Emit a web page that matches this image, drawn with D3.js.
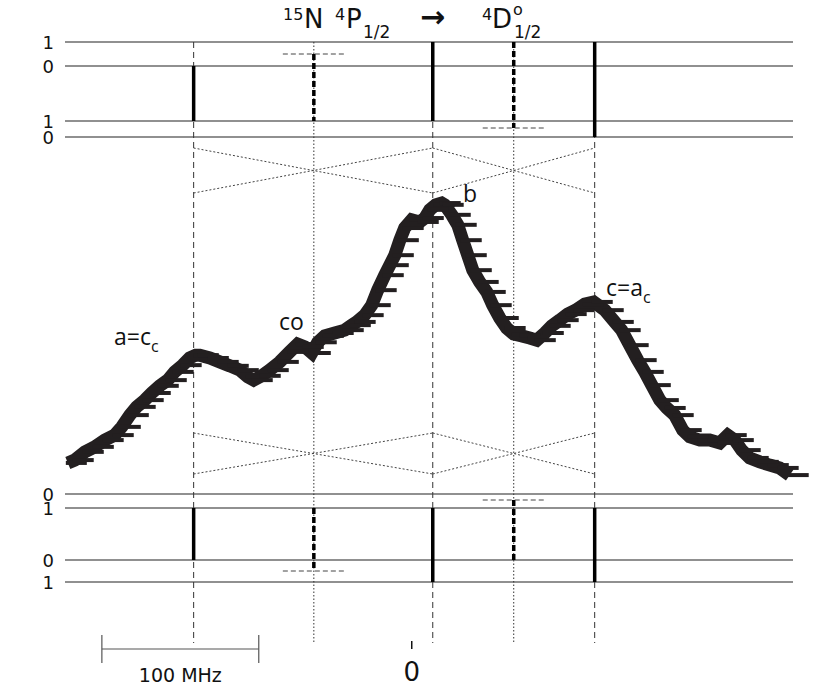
<!DOCTYPE html>
<html><head><meta charset="utf-8">
<script src="https://cdn.jsdelivr.net/npm/d3@7"></script>
<style>body{margin:0;background:#fff}svg{display:block}</style>
</head><body>
<script>
// ---- data ----
// transition positions (MHz relative to 0)
const lineFreqs = [-139, -62.4, 13.4, 65, 116.6];
const lineKinds = ["dashed", "dotted", "dashed", "dotted", "dashed"];
const peakLabels = ["a=c", "co", "b", "", "c=a"];
// curve: frequency (MHz) and intensity (arb.)
const freq = [-219.2,-214.8,-208.4,-202.0,-195.7,-189.3,-184.8,-179.7,-175.3,-170.2,-165.7,-160.6,-155.5,-151.1,-146.0,-141.5,-137.7,
 -135.1,-128.7,-122.4,-116.0,-109.6,-104.5,-100.7,-95.6,-90.5,-84.1,-77.8,-72.7,-68.2,-63.7,-59.9,-55.4,-49.1,-42.7,-38.2,
 -35.1,-30.0,-25.5,-21.7,-17.2,-14.0,-10.8,-7.6,-4.5,0,5.1,8.3,11.5,15.3,19.1,
 21.0,25.5,29.3,32.5,35.7,38.9,43.3,47.8,51.6,56.1,60.5,65.0,70.1,75.2,79.7,84.8,89.2,94.3,99.4,104.5,110.3,116.0,
 123.0,129.4,133.8,138.9,144.0,148.5,153.0,158.1,162.5,167.6,172.7,177.2,183.6,189.9,196.3,201.4,205.9,210.3,215.4,221.8,228.2,234.5,240.9];
const intensity = [0.087,0.095,0.118,0.132,0.151,0.165,0.188,0.221,0.244,0.263,0.283,0.303,0.319,0.342,0.361,0.381,0.389,
 0.389,0.381,0.370,0.359,0.347,0.328,0.319,0.331,0.347,0.370,0.398,0.420,0.412,0.395,0.425,0.443,0.451,0.459,0.473,
 0.482,0.501,0.529,0.571,0.613,0.641,0.669,0.711,0.745,0.768,0.762,0.773,0.796,0.810,0.815,
 0.810,0.782,0.754,0.711,0.669,0.627,0.594,0.566,0.529,0.493,0.465,0.448,0.443,0.437,0.431,0.451,0.471,0.487,0.504,0.515,0.532,0.538,
 0.515,0.482,0.459,0.417,0.375,0.342,0.305,0.263,0.241,0.221,0.179,0.160,0.151,0.151,0.143,0.165,0.151,0.123,0.101,0.090,0.081,0.073,0.053];
// level panels: [value label, level]
const topLevels = [["1",42],["0",66],["1",121],["0",137]];
const botLevels = [["0",494],["1",508],["0",560],["1",582]];
const scaleMHz = 100;

// ---- drawing ----
const W = 827, H = 688;
const svg = d3.select("body").append("svg").attr("width", W).attr("height", H);
const x = d3.scaleLinear().domain([-221, 243]).range([65, 793]);
const y = d3.scaleLinear().domain([0, 1]).range([494, 137]);
const ink = "#231f20";

// panel level lines
[...topLevels, ...botLevels].forEach(([lab, py]) => {
  svg.append("line").attr("x1", 65).attr("x2", 793).attr("y1", py).attr("y2", py)
    .attr("stroke", "#222").attr("stroke-width", 1.2);
  svg.append("text").attr("x", 54).attr("y", py + 6.5).attr("text-anchor", "end")
    .attr("font-family", "DejaVu Sans")
    .attr("font-size", 18).attr("fill", "#111").text(lab);
});

// vertical guide lines
lineFreqs.forEach((f, i) => {
  svg.append("line").attr("x1", x(f)).attr("x2", x(f)).attr("y1", 42).attr("y2", 643)
    .attr("stroke", "#333").attr("stroke-width", 1)
    .attr("stroke-dasharray", lineKinds[i] === "dashed" ? "6,4" : "1.5,2");
});

// dotted crossing lines (top and bottom)
const crossPairs = [[0, 2], [2, 4]];
[[148, 193], [433, 474]].forEach(([ya, yb]) => {
  crossPairs.forEach(([i, j]) => {
    const xa = x(lineFreqs[i]), xb = x(lineFreqs[j]);
    [[ya, yb], [yb, ya]].forEach(([y1, y2]) => {
      svg.append("line").attr("x1", xa).attr("x2", xb).attr("y1", y1).attr("y2", y2)
        .attr("stroke", "#444").attr("stroke-width", 1).attr("stroke-dasharray", "2,2");
    });
  });
});

// level bars: [line index, y1, y2, dashed, capY]
const bars = [
  [0, 66, 121, false, null], [1, 54, 121, true, 54], [2, 42, 121, false, null], [3, 42, 128, true, 128], [4, 42, 137, false, null],
  [0, 508, 560, false, null], [1, 508, 571, true, 571], [2, 508, 582, false, null], [3, 500, 560, true, 500], [4, 508, 582, false, null]
];
bars.forEach(([i, y1, y2, dashed, cap]) => {
  const cx = x(lineFreqs[i]);
  svg.append("line").attr("x1", cx).attr("x2", cx).attr("y1", y1).attr("y2", y2)
    .attr("stroke", "#000").attr("stroke-width", 3.5)
    .attr("stroke-dasharray", dashed ? "6,3" : null);
  if (cap !== null) {
    svg.append("line").attr("x1", cx - 31).attr("x2", cx + 31).attr("y1", cap).attr("y2", cap)
      .attr("stroke", "#444").attr("stroke-width", 1).attr("stroke-dasharray", "5,3");
  }
});

// data curve
const pts = freq.map((f, i) => [x(f), y(intensity[i])]);
svg.append("path").attr("d", d3.line()(pts)).attr("fill", "none")
  .attr("stroke", ink).attr("stroke-width", 13).attr("stroke-linejoin", "miter");
svg.append("g").selectAll("line").data(pts).join("line")
  .attr("x1", d => d[0] - 2).attr("x2", d => d[0] + 19)
  .attr("y1", d => d[1]).attr("y2", d => d[1])
  .attr("stroke", ink).attr("stroke-width", 4);

// peak labels
const lf = "Open Sans, DejaVu Sans, sans-serif";
function lab(txt, sub, px, py) {
  const t = svg.append("text").attr("x", px).attr("y", py).attr("font-family", lf)
    .attr("font-size", 23).attr("fill", "#111").text(txt);
  if (sub) t.append("tspan").attr("font-size", 16).attr("dy", 7).text(sub);
}
lab(peakLabels[0], "c", 114, 345);
lab(peakLabels[1], null, 279, 330);
lab(peakLabels[2], null, 463, 202);
lab(peakLabels[4], "c", 606, 296);

// title
const tf = "DejaVu Sans";
function tt(s, px, py, fs, fw) {
  svg.append("text").attr("x", px).attr("y", py).attr("font-family", tf)
    .attr("font-size", fs).attr("font-weight", fw || "normal").attr("fill", "#111").text(s);
}
tt("15", 283, 20, 16); tt("N", 304, 28, 26);
tt("4", 335, 20, 16); tt("P", 346, 28, 26); tt("1/2", 363, 38, 17);
tt("\u2192", 420, 27, 30, "bold");
tt("4", 482, 20, 16); tt("D", 492, 28, 26); tt("o", 513, 15, 16); tt("1/2", 514, 38, 17);

// scale bar
const sb0 = -197.5;
svg.append("line").attr("x1", x(sb0)).attr("x2", x(sb0 + scaleMHz)).attr("y1", 649).attr("y2", 649)
  .attr("stroke", "#555").attr("stroke-width", 1.2);
[sb0, sb0 + scaleMHz].forEach(f => svg.append("line").attr("x1", x(f)).attr("x2", x(f))
  .attr("y1", 635).attr("y2", 663).attr("stroke", "#555").attr("stroke-width", 1.2));
svg.append("text").attr("x", (x(sb0) + x(sb0 + scaleMHz)) / 2).attr("y", 682).attr("text-anchor", "middle")
  .attr("font-family", tf).attr("font-size", 19).attr("fill", "#111").text(scaleMHz + " MHz");
// zero tick
svg.append("line").attr("x1", x(0)).attr("x2", x(0)).attr("y1", 641).attr("y2", 649)
  .attr("stroke", "#111").attr("stroke-width", 1.5);
svg.append("text").attr("x", x(0)).attr("y", 681).attr("text-anchor", "middle")
  .attr("font-family", tf).attr("font-size", 26).attr("fill", "#111").text("0");
</script>
</body></html>
